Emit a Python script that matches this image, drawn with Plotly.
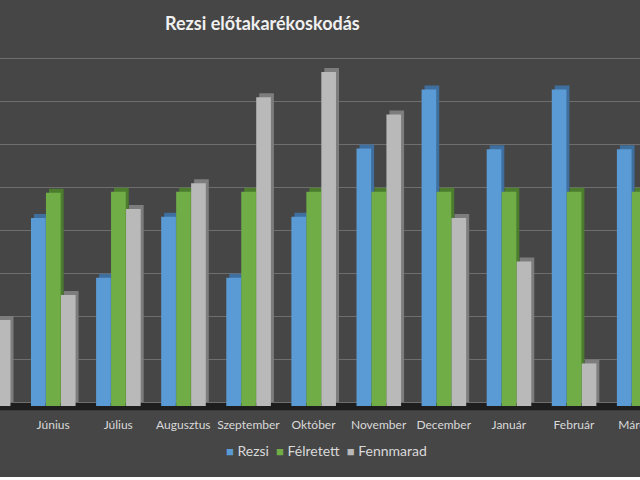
import plotly.graph_objects as go

# values (in gridline units)
honapok = ['Május', 'Június', 'Július', 'Augusztus', 'Szeptember', 'Október',
           'November', 'December', 'Január', 'Február', 'Március']
rezsi = [None, 4.37, 2.98, 4.4, 2.98, 4.4, 5.99, 7.36, 5.97, 7.36, 5.97]
felretett = [None, 4.96, 4.98, 4.98, 4.98, 4.98, 4.98, 4.98, 4.98, 4.98, 4.98]
fennmarad = [2.0, 2.58, 4.58, 5.18, 7.18, 7.77, 6.78, 4.37, 3.36, 0.99, None]

series = [
    ('Rezsi', rezsi, '#5b9bd5', '#3e6f9e', -0.34),
    ('Félretett', felretett, '#70ad47', '#4c7d2e', -0.11),
    ('Fennmarad', fennmarad, '#b9b9b9', '#7d7d7d', 0.12),
]
bar_w = 0.225
depth_x = 0.046   # ~3px side face
depth_y = 0.093   # ~4px top face

fig = go.Figure()

# darker "3D" side/top faces drawn first
for name, vals, col, dark, off in series:
    fig.add_trace(go.Bar(x=honapok, y=vals, base=depth_y, width=bar_w,
                         offset=off + depth_x, marker_color=dark,
                         marker_line_width=0, showlegend=False,
                         hoverinfo='skip'))

for name, vals, col, dark, off in series:
    fig.add_trace(go.Bar(x=honapok, y=vals, name=name, width=bar_w,
                         offset=off, marker_color=col, marker_line_width=0,
                         showlegend=False))

# compact Excel-style legend
legend_txt = '&nbsp; '.join(
    "<span style='color:%s;font-size:13px'>■</span>&nbsp;%s" % (col, name)
    for name, vals, col, dark, off in series)

fig.update_layout(
    width=640, height=480,
    barmode='overlay',
    paper_bgcolor='#464646', plot_bgcolor='rgba(0,0,0,0)',
    margin=dict(l=0, r=0, t=46, b=69),
    font=dict(family='Lato', color='#d9d9d9'),
    title=dict(text='<b>Rezsi előtakarékoskodás</b>', x=0.41, xanchor='center',
               xref='paper', y=0.95, yref='container', yanchor='middle',
               font=dict(family='Lato', size=18, color='#f0f0f0')),
    annotations=[dict(text=legend_txt, xref='paper', yref='paper', x=0.51,
                      y=-0.107, xanchor='center', yanchor='middle',
                      showarrow=False,
                      font=dict(family='Lato', size=14, color='#d9d9d9'))],
    shapes=[
        dict(type='rect', xref='paper', yref='y', x0=0, x1=1, y0=-0.1, y1=0.07,
             fillcolor='#1e1e1e', line_width=0, layer='between'),
        dict(type='rect', xref='paper', yref='paper', x0=0, x1=1, y0=-0.181,
             y1=-0.2, fillcolor='#ffffff', line_width=0),
    ],
)
fig.update_xaxes(type='category', range=[0.184, 10.015], showgrid=False,
                 showline=False, zeroline=False, ticks='outside', ticklen=3,
                 tickcolor='rgba(0,0,0,0)', automargin=False,
                 tickfont=dict(family='Lato', size=12, color='#d9d9d9'))
fig.update_yaxes(range=[-0.116, 8.372], tick0=0.093, dtick=1, showgrid=True,
                 gridcolor='#6e6e6e', gridwidth=1, showticklabels=False,
                 zeroline=False, showline=False, automargin=False)

fig.write_html('out.html', config={'displayModeBar': False},
               post_script="document.body.style.margin='0';"
                           "document.body.style.overflow='hidden';")
